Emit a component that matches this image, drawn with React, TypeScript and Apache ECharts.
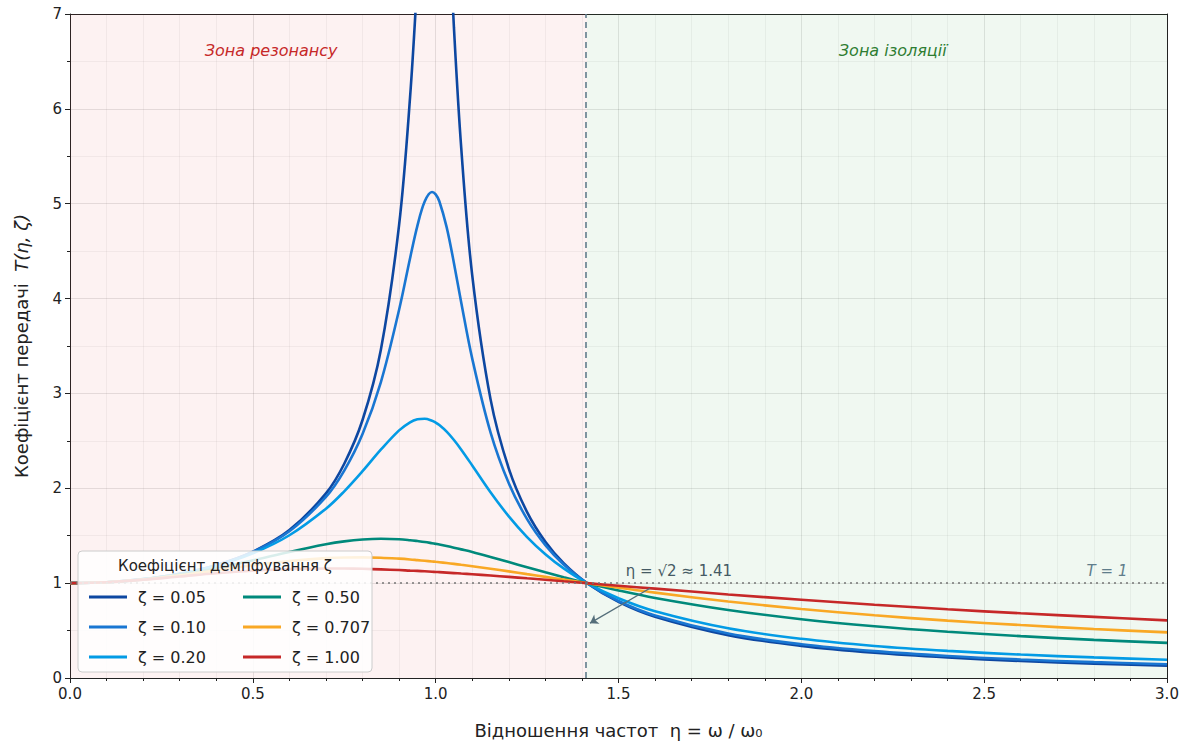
import React, { useEffect, useRef } from "react";
import * as echarts from "echarts";

const eta = [0, 0.1, 0.2, 0.3, 0.4, 0.5, 0.6, 0.7, 0.75, 0.8, 0.85, 0.9, 0.93, 0.95, 0.97, 0.99, 1.0, 1.01, 1.03, 1.05, 1.07, 1.1, 1.15, 1.2, 1.25, 1.3, 1.35, 1.414, 1.5, 1.6, 1.8, 2.0, 2.2, 2.4, 2.6, 2.8, 3.0];

const z005 = [1, 1.010, 1.042, 1.099, 1.190, 1.332, 1.559, 1.947, 2.259, 2.720, 3.458, 4.776, 6.123, 7.379, 8.845, 9.951, 10.05, 9.760, 8.401, 6.853, 5.583, 4.244, 2.940, 2.208, 1.749, 1.436, 1.211, 1.0, 0.803, 0.646, 0.452, 0.339, 0.266, 0.216, 0.179, 0.152, 0.130];
const z010 = [1, 1.010, 1.042, 1.099, 1.189, 1.328, 1.547, 1.909, 2.186, 2.571, 3.117, 3.882, 4.425, 4.766, 5.023, 5.123, 5.099, 5.026, 4.753, 4.373, 3.957, 3.367, 2.590, 2.052, 1.675, 1.401, 1.197, 1.0, 0.812, 0.659, 0.469, 0.356, 0.283, 0.232, 0.195, 0.167, 0.145];
const z020 = [1, 1.010, 1.041, 1.097, 1.184, 1.314, 1.505, 1.785, 1.968, 2.180, 2.407, 2.611, 2.696, 2.727, 2.733, 2.713, 2.693, 2.666, 2.597, 2.509, 2.407, 2.241, 1.959, 1.704, 1.486, 1.305, 1.155, 1.0, 0.841, 0.704, 0.524, 0.413, 0.338, 0.286, 0.247, 0.217, 0.193];
const z050 = [1, 1.010, 1.040, 1.090, 1.158, 1.240, 1.329, 1.409, 1.440, 1.460, 1.468, 1.463, 1.453, 1.444, 1.434, 1.421, 1.414, 1.407, 1.391, 1.374, 1.356, 1.328, 1.276, 1.222, 1.168, 1.114, 1.063, 1.0, 0.923, 0.844, 0.717, 0.620, 0.546, 0.488, 0.441, 0.402, 0.370];
const z0707 = [1, 1.010, 1.038, 1.082, 1.135, 1.188, 1.234, 1.264, 1.271, 1.272, 1.268, 1.258, 1.250, 1.243, 1.236, 1.229, 1.225, 1.221, 1.212, 1.203, 1.193, 1.178, 1.152, 1.124, 1.095, 1.066, 1.037, 1.0, 0.953, 0.900, 0.807, 0.728, 0.661, 0.605, 0.558, 0.517, 0.481];
const z100 = [1, 1.010, 1.036, 1.070, 1.104, 1.131, 1.149, 1.155, 1.154, 1.151, 1.145, 1.138, 1.132, 1.129, 1.125, 1.120, 1.118, 1.116, 1.111, 1.106, 1.101, 1.094, 1.080, 1.066, 1.051, 1.036, 1.020, 1.0, 0.973, 0.942, 0.881, 0.825, 0.773, 0.725, 0.682, 0.644, 0.608];

const seriesNames = ["ζ = 0.05", "ζ = 0.10", "ζ = 0.20", "ζ = 0.50", "ζ = 0.707", "ζ = 1.00"];
const seriesValues = [z005, z010, z020, z050, z0707, z100];
const seriesColors = ["#0d47a1", "#1976d2", "#039be5", "#00897b", "#f9a825", "#c62828"];

const SQRT2 = 1.4142;
const FONT = "DejaVu Sans";

export default function App() {
  const ref = useRef<HTMLDivElement>(null);
  useEffect(() => {
    const chart = echarts.init(ref.current!, null, { renderer: "svg" });
    const series: any[] = seriesValues.map((vals, i) => ({
      name: seriesNames[i],
      type: "line",
      data: eta.map((x, j) => [x, vals[j]]),
      smooth: 0.35,
      clip: true,
      showSymbol: false,
      symbol: "none",
      lineStyle: { width: 2.6, color: seriesColors[i] },
      itemStyle: { color: seriesColors[i] },
      z: 2,
    }));
    series[0].markArea = {
      silent: true,
      itemStyle: {},
      data: [
        [{ xAxis: 0, itemStyle: { color: "rgba(229,57,53,0.065)" } }, { xAxis: SQRT2 }],
        [{ xAxis: SQRT2, itemStyle: { color: "rgba(67,160,71,0.08)" } }, { xAxis: 3 }],
      ],
    };
    series[0].markLine = {
      silent: true,
      symbol: "none",
      label: { show: false },
      data: [
        { yAxis: 1, lineStyle: { type: [2, 4], color: "#757575", width: 1.6 } },
        { xAxis: SQRT2, lineStyle: { type: [6, 4], color: "#607d8b", width: 1.6 } },
      ],
    };
    series.push({
      type: "line",
      data: [],
      markLine: {
        silent: true,
        symbol: ["none", "arrow"],
        symbolSize: 8,
        label: { show: false },
        lineStyle: { color: "#546e7a", width: 1.3, type: "solid" },
        data: [[{ coord: [1.586, 0.946] }, { coord: [1.422, 0.578] }]],
      },
    });

    const legendBase = {
      orient: "vertical",
      top: 584,
      itemGap: 14,
      itemWidth: 38,
      itemHeight: 3,
      icon: "rect",
      z: 60,
      textStyle: { fontSize: 16, color: "#222", padding: [0, 0, 0, 6], fontFamily: FONT },
    };

    chart.setOption({
      animation: false,
      textStyle: { fontFamily: FONT },
      grid: { left: 70, right: 28, top: 14, bottom: 64 },
      legend: [
        { ...legendBase, left: 84, data: seriesNames.slice(0, 3) },
        { ...legendBase, left: 238, data: seriesNames.slice(3) },
      ],
      xAxis: [
        {
          type: "value",
          min: 0,
          max: 3,
          interval: 0.5,
          name: "Відношення частот  η = ω / ω₀",
          nameLocation: "middle",
          nameGap: 43,
          nameTextStyle: { fontSize: 18, color: "#222", fontFamily: FONT },
          axisLine: { show: true, onZero: false, lineStyle: { color: "#222", width: 1 } },
          axisTick: { show: true, length: 5, lineStyle: { color: "#222" } },
          minorTick: { show: true, splitNumber: 5, length: 3, lineStyle: { color: "#222" } },
          axisLabel: { fontSize: 15, color: "#222", margin: 8, formatter: (v: number) => v.toFixed(1) },
          splitLine: { show: true, lineStyle: { color: "rgba(0,0,0,0.10)", width: 1 } },
          minorSplitLine: { show: true, lineStyle: { color: "rgba(0,0,0,0.045)", width: 1 } },
        },
        {
          type: "value",
          position: "top",
          min: 0,
          max: 3,
          axisLine: { show: true, onZero: false, lineStyle: { color: "#222" } },
          axisTick: { show: false },
          axisLabel: { show: false },
          splitLine: { show: false },
        },
      ],
      yAxis: [
        {
          type: "value",
          min: 0,
          max: 7,
          interval: 1,
          name: "{a|Коефіцієнт передачі  }{b|T(η, ζ)}",
          nameLocation: "middle",
          nameGap: 40,
          nameRotate: 90,
          nameTextStyle: {
            fontSize: 18,
            color: "#222",
            rich: {
              a: { fontSize: 18, color: "#222", fontFamily: FONT },
              b: { fontSize: 18, color: "#222", fontStyle: "italic", fontFamily: FONT },
            },
          },
          axisLine: { show: true, onZero: false, lineStyle: { color: "#222", width: 1 } },
          axisTick: { show: true, length: 5, lineStyle: { color: "#222" } },
          minorTick: { show: true, splitNumber: 2, length: 3, lineStyle: { color: "#222" } },
          axisLabel: { fontSize: 15, color: "#222", margin: 8 },
          splitLine: { show: true, lineStyle: { color: "rgba(0,0,0,0.10)", width: 1 } },
          minorSplitLine: { show: true, lineStyle: { color: "rgba(0,0,0,0.045)", width: 1 } },
        },
        {
          type: "value",
          position: "right",
          min: 0,
          max: 7,
          axisLine: { show: true, onZero: false, lineStyle: { color: "#222" } },
          axisTick: { show: false },
          axisLabel: { show: false },
          splitLine: { show: false },
        },
      ],
      series,
    });

    const p = (x: number, y: number) => chart.convertToPixel({ gridIndex: 0 }, [x, y]) as number[];
    const res = p(0.55, 6.62);
    const iso = p(2.25, 6.62);
    const t1 = p(2.836, 1.05);
    const ann = p(1.52, 1.05);
    chart.setOption({
      graphic: [
        {
          type: "text",
          x: res[0],
          y: res[1],
          z: 20,
          style: { text: "Зона резонансу", fill: "#c62828", font: `italic 16px "${FONT}"`, align: "center", verticalAlign: "middle" },
        },
        {
          type: "text",
          x: iso[0],
          y: iso[1],
          z: 20,
          style: { text: "Зона ізоляції", fill: "#2e7d32", font: `italic 16px "${FONT}"`, align: "center", verticalAlign: "middle" },
        },
        {
          type: "text",
          x: t1[0],
          y: t1[1],
          z: 20,
          style: { text: "T = 1", fill: "#607d8b", font: `italic 15px "${FONT}"`, align: "center", verticalAlign: "bottom" },
        },
        {
          type: "text",
          x: ann[0],
          y: ann[1],
          z: 20,
          style: { text: "η = √2 ≈ 1.41", fill: "#455a64", font: `15px "${FONT}"`, align: "left", verticalAlign: "bottom" },
        },
        {
          type: "rect",
          z: 50,
          shape: { x: 78, y: 551, width: 294, height: 121, r: 4 },
          style: { fill: "rgba(255,255,255,0.85)", stroke: "#cccccc", lineWidth: 1 },
        },
        {
          type: "text",
          z: 55,
          x: 225,
          y: 566,
          style: { text: "Коефіцієнт демпфування ζ", fill: "#222", font: `15px "${FONT}"`, align: "center", verticalAlign: "middle" },
        },
      ],
    });

    return () => chart.dispose();
  }, []);
  return <div ref={ref} style={{ width: 1195, height: 744, position: "absolute", left: 0, top: 0 }} />;
}
